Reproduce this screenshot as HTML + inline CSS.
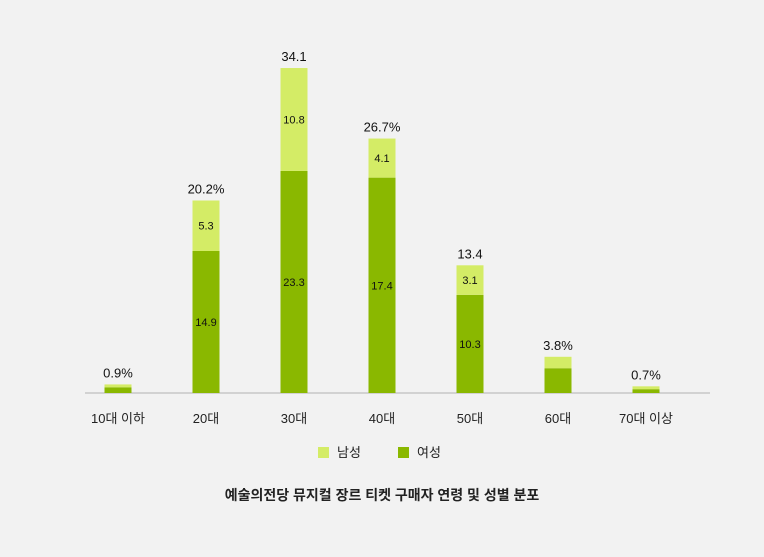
<!DOCTYPE html>
<html><head><meta charset="utf-8"><style>
body{margin:0;background:#f2f2f2;}
svg{display:block;font-family:"Liberation Sans","Noto Sans CJK KR",sans-serif;}
</style></head><body>
<svg id="chart" width="764" height="557" viewBox="0 0 764 557">
<rect width="764" height="557" fill="#f2f2f2"/>
<line x1="85" y1="393" x2="710" y2="393" stroke="#c8c8c8" stroke-width="1.5"/>
<g id="bars"></g>
<g>
<rect x="318" y="447" width="11" height="11" fill="#d4ec66"/>
<text x="337" y="457" font-size="13" fill="#222">남성</text>
<rect x="398" y="447" width="11" height="11" fill="#8ab800"/>
<text x="417" y="457" font-size="13" fill="#222">여성</text>
</g>
<text x="382" y="500" font-size="14" font-weight="bold" text-anchor="middle" fill="#222">예술의전당 뮤지컬 장르 티켓 구매자 연령 및 성별 분포</text>
</svg>
<script>
const categories=["10대 이하","20대","30대","40대","50대","60대","70대 이상"];
const female=[0.6,14.9,23.3,22.6,10.3,2.6,0.4];
const male=[0.3,5.3,10.8,4.1,3.1,1.2,0.3];
const totalLabels=["0.9%","20.2%","34.1","26.7%","13.4","3.8%","0.7%"];
const femaleLabels=["","14.9","23.3","17.4","10.3","",""];
const maleLabels=["","5.3","10.8","4.1","3.1","",""];
const NS="http://www.w3.org/2000/svg";
const base=393, k=9.53, x0=118, step=88, bw=27;
const y=v=>base-v*k;
const xc=i=>x0+i*step;
const g=document.getElementById('bars');
function mk(t,a){const e=document.createElementNS(NS,t);for(const n in a)e.setAttribute(n,a[n]);return e;}
categories.forEach((c,i)=>{
  const f=female[i], m=male[i];
  const rf=mk('rect',{x:xc(i)-bw/2,y:y(f),width:bw,height:base-y(f),fill:'#8ab800'});
  
  
  g.appendChild(rf);
  const rm=mk('rect',{x:xc(i)-bw/2,y:y(f+m),width:bw,height:y(f)-y(f+m),fill:'#d4ec66'});
  
  
  g.appendChild(rm);
  const tl=mk('text',{x:xc(i),y:y(f+m)-7,'font-size':13,'text-anchor':'middle',fill:'#111'});
  tl.textContent=totalLabels[i];
  
  
  g.appendChild(tl);
  if(femaleLabels[i]){
    const fl=mk('text',{x:xc(i),y:(y(f)+base)/2+4,'font-size':11,'text-anchor':'middle',fill:'#111'});
    fl.textContent=femaleLabels[i];
    
    
    g.appendChild(fl);
  }
  if(maleLabels[i]){
    const ml=mk('text',{x:xc(i),y:(y(f)+y(f+m))/2+4,'font-size':11,'text-anchor':'middle',fill:'#111'});
    ml.textContent=maleLabels[i];
    
    
    g.appendChild(ml);
  }
  const cl=mk('text',{x:xc(i),y:423,'font-size':13,'text-anchor':'middle',fill:'#222'});
  cl.textContent=c;
  
  
  g.appendChild(cl);
});
</script>
</body></html>
